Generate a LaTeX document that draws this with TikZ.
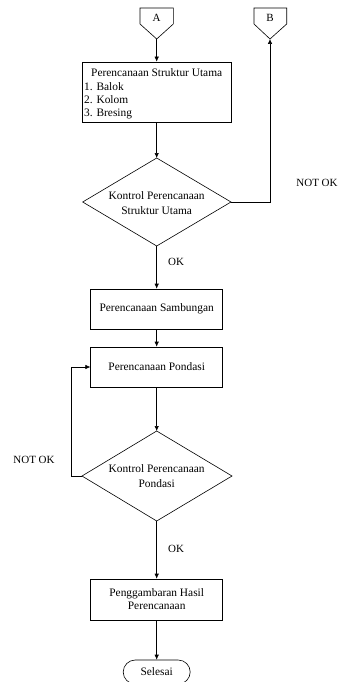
\documentclass[tikz,border=0pt]{standalone}
\usepackage{fontspec}
\setmainfont{Liberation Serif}
\usetikzlibrary{arrows.meta}
\begin{document}
\begin{tikzpicture}[x=1pt,y=1pt,
  ln/.style={line width=0.6pt},
  box/.style={draw, line width=0.6pt, minimum width=132pt, minimum height=40pt, align=center, inner sep=1pt, font=\fontsize{11.4}{13}\selectfont},
  dtext/.style={align=center, inner sep=0pt, font=\fontsize{11.4}{15}\selectfont},
  lab/.style={inner sep=0pt, font=\fontsize{11}{13}\selectfont},
  arr/.style={-{Latex[length=5pt,width=4.5pt]}, line width=0.6pt},
  term/.style={draw, line width=0.6pt, rounded corners=12pt, minimum width=67pt, minimum height=24pt, inner sep=0pt, font=\fontsize{11.4}{13}\selectfont}
]
\useasboundingbox (0,0) rectangle (338,-682);

% off-page connectors
\node[lab] (A) at (156.7,-18) {A};
\draw[ln] (140,-8) -- (173.3,-8) -- (173.3,-24) -- (156.7,-39) coordinate (Atip) -- (140,-24) -- cycle;
\node[lab] (B) at (270,-18) {B};
\draw[ln] (254,-8) -- (286.7,-8) -- (286.7,-24) -- (270,-39) coordinate (Btip) -- (254,-24) -- cycle;

% box 1
\node[box, minimum width=149pt, minimum height=60pt] (b1) at (156.7,-92) {};
\node[inner sep=0pt, font=\fontsize{11.4}{13.4}\selectfont] (b1t) at (156.7,-94)
  {\parbox{145pt}{\centering Perencanaan Struktur Utama\par\raggedright 1. Balok\par 2. Kolom\par 3. Bresing}};

% decision 1
\node[dtext] (d1) at (156.7,-203) {Kontrol Perencanaan\\Struktur Utama};
\draw[ln] (156.7,-158) coordinate (d1n) -- (231,-202) coordinate (d1e) -- (156.7,-246) coordinate (d1s) -- (82.7,-202) coordinate (d1w) -- cycle;

% boxes 2,3
\node[box] (b2) at (156.7,-309) {Perencanaan Sambungan};
\node[box] (b3) at (156.7,-367) {Perencanaan Pondasi};

% decision 2
\node[dtext] (d2) at (156.7,-476) {Kontrol Perencanaan\\Pondasi};
\draw[ln] (156.7,-431) coordinate (d2n) -- (232,-476) coordinate (d2e) -- (156.7,-521) coordinate (d2s) -- (82,-476) coordinate (d2w) -- cycle;

% box 4
\node[box, minimum height=41pt] (b4) at (156.7,-599.5) {Penggambaran Hasil\\Perencanaan};

% terminal
\node[term] (end) at (156.7,-672) {Selesai};

% labels
\node[lab] (nok1) at (317,-183) {NOT OK};
\node[lab] (ok1) at (176,-262) {OK};
\node[lab] (nok2) at (34,-460) {NOT OK};
\node[lab] (ok2) at (176,-549) {OK};

% connectors
\draw[arr] (Atip) -- (b1.north);
\draw[arr] (b1.south) -- (d1n);
\draw[arr] (d1e) -- (270,-202) -- (Btip);
\draw[arr] (d1s) -- (b2.north);
\draw[arr] (b2.south) -- (b3.north);
\draw[arr] (b3.south) -- (d2n);
\draw[arr] (d2w) -- (71,-476) -- (71,-367) -- (b3.west);
\draw[arr] (d2s) -- (b4.north);
\draw[arr] (b4.south) -- (end.north);
\end{tikzpicture}
\end{document}
